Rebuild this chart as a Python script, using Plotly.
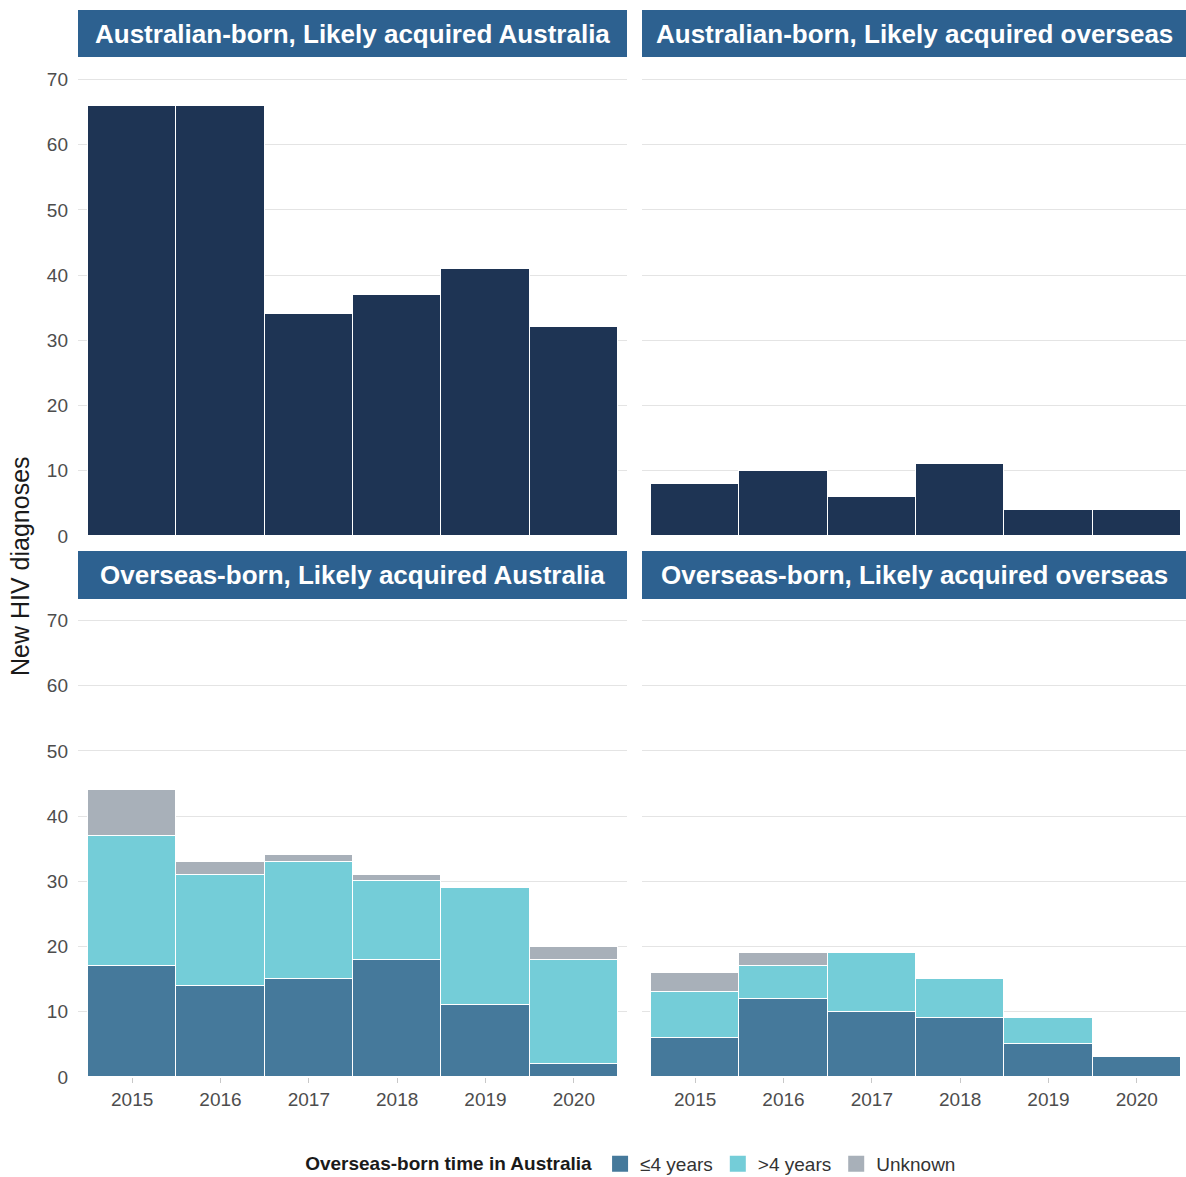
import plotly.graph_objects as go

# New HIV diagnoses by place of birth and likely place of acquisition
years = [2015, 2016, 2017, 2018, 2019, 2020]

aus_born_acq_aus = [66, 66, 34, 37, 41, 32]
aus_born_acq_overseas = [8, 10, 6, 11, 4, 4]

# Overseas-born panels, stacked by time spent in Australia
os_acq_aus_le4 = [17, 14, 15, 18, 11, 2]
os_acq_aus_gt4 = [20, 17, 18, 12, 18, 16]
os_acq_aus_unk = [7, 2, 1, 1, 0, 2]

os_acq_os_le4 = [6, 12, 10, 9, 5, 3]
os_acq_os_gt4 = [7, 5, 9, 6, 4, 0]
os_acq_os_unk = [3, 2, 0, 0, 0, 0]

panel_titles = [
    "Australian-born, Likely acquired Australia",
    "Australian-born, Likely acquired overseas",
    "Overseas-born, Likely acquired Australia",
    "Overseas-born, Likely acquired overseas",
]
series_names = ["≤4 years", ">4 years", "Unknown"]
y_ticks = [0, 10, 20, 30, 40, 50, 60, 70]

NAVY = "#1e3454"
C_LE4 = "#45799b"
C_GT4 = "#74cdd8"
C_UNK = "#a8b0b9"
STRIP = "#2d6190"
GRID = "#e4e4e4"
FONT = "Liberation Sans, Arial, sans-serif"

W, H = 1186, 1177

fig = go.Figure()

bar_line = dict(color="white", width=1)

# Top row (Australian-born)
fig.add_trace(go.Bar(x=years, y=aus_born_acq_aus, marker=dict(color=NAVY, line=bar_line),
                     width=1, showlegend=False, xaxis="x3", yaxis="y3"))
fig.add_trace(go.Bar(x=years, y=aus_born_acq_overseas, marker=dict(color=NAVY, line=bar_line),
                     width=1, showlegend=False, xaxis="x4", yaxis="y4"))

colors = [C_LE4, C_GT4, C_UNK]

# Bottom row (overseas-born), stacked
for vals, name, col in zip([os_acq_aus_le4, os_acq_aus_gt4, os_acq_aus_unk], series_names, colors):
    fig.add_trace(go.Bar(x=years, y=vals, name=name, marker=dict(color=col, line=bar_line),
                         width=1, legendgroup=name, showlegend=False, xaxis="x", yaxis="y"))
for vals, name, col in zip([os_acq_os_le4, os_acq_os_gt4, os_acq_os_unk], series_names, colors):
    fig.add_trace(go.Bar(x=years, y=vals, name=name, marker=dict(color=col, line=bar_line),
                         width=1, legendgroup=name, showlegend=False, xaxis="x2", yaxis="y2"))

# Legend keys as square markers
for name, col in zip(series_names, colors):
    fig.add_trace(go.Scatter(x=[None], y=[None], mode="markers", name=name, legendgroup=name,
                             marker=dict(symbol="square", size=20, color=col),
                             showlegend=True, xaxis="x", yaxis="y"))

def px_x(p):
    return p / W

def px_y(p):
    return 1 - p / H

left_dom = [px_x(78), px_x(627)]
right_dom = [px_x(642), px_x(1186)]
top_dom = [px_y(536), px_y(60)]
bot_dom = [px_y(1077), px_y(601)]

left_range = [2014.387, 2020.602]
right_range = [2014.398, 2020.557]
y_range = [0, 73]

tickfont = dict(family=FONT, size=19, color="#4d4d4d")

def xax(domain, rng, anchor, labels):
    return dict(domain=domain, range=rng, anchor=anchor, tickmode="array",
                tickvals=years, ticktext=[str(v) for v in years],
                showticklabels=labels, ticks="outside" if labels else "", ticklen=5,
                tickcolor="#c8c8c8", showgrid=False, zeroline=False, showline=False,
                tickfont=tickfont, fixedrange=True)

def yax(domain, anchor, labels):
    return dict(domain=domain, range=y_range, anchor=anchor, tickmode="array",
                tickvals=y_ticks, showticklabels=labels, showgrid=True, gridcolor=GRID,
                gridwidth=1, zeroline=False, showline=False, ticks="", ticklabelstandoff=9,
                tickfont=tickfont, fixedrange=True)

fig.update_layout(
    width=W, height=H,
    margin=dict(l=0, r=0, t=0, b=0, autoexpand=False),
    paper_bgcolor="white", plot_bgcolor="white",
    barmode="stack", bargap=0,
    font=dict(family=FONT, color="#333333"),
    xaxis=xax(left_dom, left_range, "y", True),
    yaxis=yax(bot_dom, "x", True),
    xaxis2=xax(right_dom, right_range, "y2", True),
    yaxis2=yax(bot_dom, "x2", False),
    xaxis3=xax(left_dom, left_range, "y3", False),
    yaxis3=yax(top_dom, "x3", True),
    xaxis4=xax(right_dom, right_range, "y4", False),
    yaxis4=yax(top_dom, "x4", False),
    legend=dict(orientation="h", x=0.533, xanchor="center", y=px_y(1164), yanchor="middle",
                title=dict(text="<b>Overseas-born time in Australia</b>",
                           font=dict(family=FONT, size=19, color="#1a1a1a")),
                font=dict(family=FONT, size=19, color="#333333"),
                itemsizing="trace", traceorder="normal",
                bgcolor="rgba(0,0,0,0)"),
)

# Facet strips
strips = [
    (78, 627, 10, 57, panel_titles[0]),
    (642, 1186, 10, 57, panel_titles[1]),
    (78, 627, 551, 599, panel_titles[2]),
    (642, 1186, 551, 599, panel_titles[3]),
]
for x0, x1, y0, y1, title in strips:
    fig.add_shape(type="rect", xref="paper", yref="paper",
                  x0=px_x(x0), x1=px_x(x1), y0=px_y(y1), y1=px_y(y0),
                  fillcolor=STRIP, line=dict(width=0), layer="below")
    fig.add_annotation(xref="paper", yref="paper", x=px_x((x0 + x1) / 2), y=px_y((y0 + y1) / 2),
                       text=f"<b>{title}</b>", showarrow=False, xanchor="center", yanchor="middle",
                       font=dict(family=FONT, size=26, color="white"))

# Shared y-axis title
fig.add_annotation(xref="paper", yref="paper", x=px_x(20), y=px_y(566), text="New HIV diagnoses",
                   textangle=-90, showarrow=False, xanchor="center", yanchor="middle",
                   font=dict(family=FONT, size=25, color="#1a1a1a"))

fig.write_html("out.html")
